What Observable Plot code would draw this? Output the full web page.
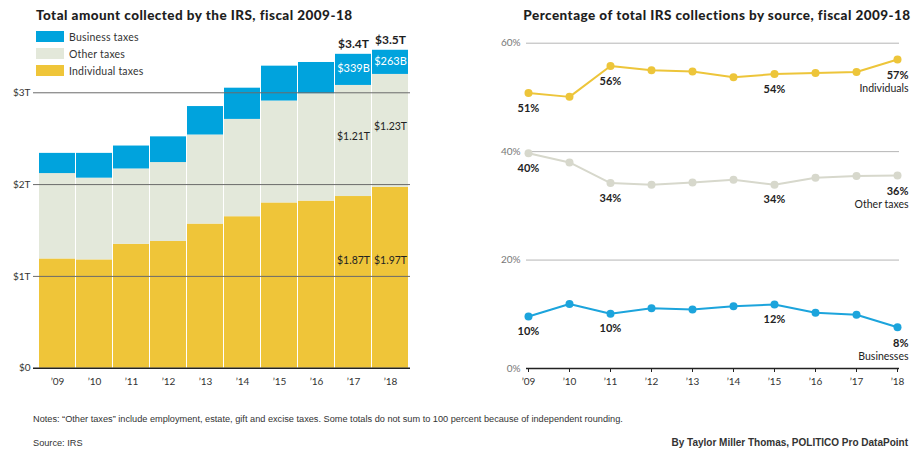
<!DOCTYPE html>
<html>
<head>
<meta charset="utf-8">
<script src="https://cdn.jsdelivr.net/npm/d3@7"></script>
<script src="https://cdn.jsdelivr.net/npm/@observablehq/plot@0.6"></script>
<style>
  html, body { margin: 0; padding: 0; background: #fff; }
  #wrap { position: relative; width: 920px; height: 459px; overflow: hidden; font-family: Lato, "Open Sans", sans-serif; color: #222; }
  .title { position: absolute; font-weight: 900; font-size: 13.5px; letter-spacing: 0.45px; color: #1e1e1e; white-space: nowrap; }
  .legend { position: absolute; left: 36px; top: 28px; font-size: 10.5px; letter-spacing: 0.2px; color: #333; }
  .legend .row { display: flex; align-items: center; height: 17px; }
  .legend .sw { width: 28px; height: 11px; margin-right: 5px; }
  .foot { position: absolute; font-family: "Liberation Sans Narrow", "Arial Narrow", sans-serif; font-size: 9.2px; color: #333; white-space: nowrap; }
  .plot { position: absolute; top: 0; }
</style>
</head>
<body>
<div id="wrap">
  <div class="title" style="left:36px; top:7px;">Total amount collected by the IRS, fiscal 2009-18</div>
  <div class="title" style="left:517px; width:400px; top:7px; text-align:center;">Percentage of total IRS collections by source, fiscal 2009-18</div>
  <div id="left" class="plot" style="left:0px;"></div>
  <div id="right" class="plot" style="left:440px;"></div>
  <div class="legend" id="legend"></div>
  <div class="foot" style="left:33px; top:414px;">Notes: “Other taxes” include employment, estate, gift and excise taxes. Some totals do not sum to 100 percent because of independent rounding.</div>
  <div class="foot" style="left:33px; top:438px;">Source: IRS</div>
  <div class="foot" style="right:12px; top:437px; font-weight:bold; font-size:10px;">By Taylor Miller Thomas, POLITICO Pro DataPoint</div>
</div>
<script>
// ---- Data ----
const yearLabels = ["’09","’10","’11","’12","’13","’14","’15","’16","’17","’18"];
// Trillions of dollars
const individualTaxes = [1.19, 1.18, 1.35, 1.38, 1.57, 1.65, 1.80, 1.82, 1.87, 1.97];
const otherTaxes      = [0.93, 0.89, 0.82, 0.86, 0.97, 1.06, 1.11, 1.17, 1.21, 1.23];
const businessTaxes   = [0.22, 0.27, 0.25, 0.28, 0.31, 0.34, 0.38, 0.34, 0.339, 0.263];
const taxTypes = ["Individual taxes", "Other taxes", "Business taxes"];
const taxColors = ["#EFC539", "#E3E8DA", "#00A3DD"];
const legendOrder = ["Business taxes", "Other taxes", "Individual taxes"];
const barLabelIndex = [8, 9];
const leftTicks = [0, 1, 2, 3];

// Percent of total
const individualShare = [50.8, 50.1, 55.8, 55.0, 54.8, 53.7, 54.3, 54.5, 54.7, 57.0];
const otherShare      = [39.7, 38.0, 34.2, 33.9, 34.3, 34.8, 33.9, 35.2, 35.5, 35.6];
const businessShare   = [9.6, 11.9, 10.1, 11.1, 10.9, 11.5, 11.8, 10.3, 9.9, 7.6];
const seriesNames = ["Individuals", "Other taxes", "Businesses"];
const seriesColors = ["#EDC53A", "#D7D8CC", "#1CA4DC"];
const shareLabelIndex = [0, 2, 6];
const endIndex = 9;
const rightTicks = [0, 20, 40, 60];

// ---- Legend ----
const legend = document.getElementById("legend");
for (const t of legendOrder) {
  const row = document.createElement("div");
  row.className = "row";
  const sw = document.createElement("div");
  sw.className = "sw";
  sw.style.background = taxColors[taxTypes.indexOf(t)];
  const lab = document.createElement("span");
  lab.textContent = t;
  row.appendChild(sw); row.appendChild(lab);
  legend.appendChild(row);
}

// ---- Left chart ----
const stackRows = yearLabels.flatMap((yr, i) => [
  {year: yr, type: taxTypes[0], value: individualTaxes[i]},
  {year: yr, type: taxTypes[1], value: otherTaxes[i]},
  {year: yr, type: taxTypes[2], value: businessTaxes[i]}
]);
const lab = barLabelIndex.map(i => ({
  year: yearLabels[i],
  ind: individualTaxes[i], oth: otherTaxes[i], biz: businessTaxes[i],
  total: individualTaxes[i] + otherTaxes[i] + businessTaxes[i]
}));

const left = Plot.plot({
  width: 430, height: 392,
  marginLeft: 36, marginRight: 20, marginTop: 37.2, marginBottom: 24.3,
  style: {fontFamily: "Lato, sans-serif", fontSize: "10px", color: "#333", background: "transparent"},
  x: {domain: yearLabels, paddingInner: 0.04, paddingOuter: 0, label: null},
  y: {domain: [0, 3.6], label: null},
  color: {domain: taxTypes, range: taxColors},
  marks: [
    Plot.barY(stackRows, {x: "year", y: "value", fill: "type", order: taxTypes}),
    Plot.ruleY(leftTicks.filter(d => d > 0), {stroke: "#6b6b6b", strokeWidth: 1, insetLeft: -3}),
    Plot.ruleY([0], {stroke: "#222", strokeWidth: 1.6, insetLeft: -3}),
    Plot.axisY({ticks: leftTicks, tickSize: 0, tickPadding: 6, tickFormat: d => d === 0 ? "$0" : `$${d}T`, fontSize: 10}),
    Plot.axisX({tickSize: 0, tickPadding: 10, fontSize: 10}),
    Plot.text(lab, {x: "year", y: "total", text: d => `$${d.total.toFixed(1)}T`, dy: -10, fontWeight: "bold", fontSize: 12, fill: "#1e1e1e"}),
    Plot.text(lab, {x: "year", y: d => d.ind + d.oth + d.biz / 2, text: d => `$${Math.round(d.biz * 1000)}B`, dy: -1, fill: "#fff", fontSize: 11}),
    Plot.text(lab, {x: "year", y: d => d.ind + d.oth / 2, text: d => `$${d.oth.toFixed(2)}T`, dy: -4, fill: "#222", fontSize: 10.5}),
    Plot.text(lab, {x: "year", y: () => 1.17, text: d => `$${d.ind.toFixed(2)}T`, fill: "#222", fontSize: 10.5})
  ]
});
document.getElementById("left").appendChild(left);

// ---- Right chart ----
const shares = [individualShare, otherShare, businessShare];
const shareRows = seriesNames.flatMap((s, k) => yearLabels.map((yr, i) => ({series: s, year: yr, value: shares[k][i]})));
const midLabels = seriesNames.flatMap((s, k) => shareLabelIndex.map(i => ({year: yearLabels[i], value: shares[k][i]})));
const endLabels = seriesNames.map((s, k) => ({name: s, year: yearLabels[endIndex], value: shares[k][endIndex]}));

const right = Plot.plot({
  width: 480, height: 392,
  marginLeft: 86, marginRight: 21, marginTop: 42.7, marginBottom: 24,
  style: {fontFamily: "Lato, sans-serif", fontSize: "10px", color: "#333", background: "transparent"},
  x: {type: "point", domain: yearLabels, padding: 0, label: null},
  y: {domain: [0, 60], label: null},
  color: {domain: seriesNames, range: seriesColors},
  marks: [
    Plot.ruleY(rightTicks.filter(d => d > 0), {stroke: "#b5b5b5", strokeWidth: 1}),
    Plot.axisY({ticks: rightTicks, tickSize: 0, tickPadding: 6, tickFormat: d => `${d}%`, fill: "#777", fontSize: 10}),
    Plot.ruleY([0], {stroke: "#222", strokeWidth: 1.3}),
    Plot.axisX({tickSize: 4, tickPadding: 5, fontSize: 10, stroke: "#222"}),
    Plot.line(shareRows, {x: "year", y: "value", z: "series", stroke: "series", strokeWidth: 2}),
    Plot.dot(shareRows, {x: "year", y: "value", fill: "series", r: 4}),
    Plot.text(midLabels, {x: "year", y: "value", text: d => `${Math.round(d.value)}%`, dy: 15, fontWeight: "bold", fontSize: 11, fill: "#222"}),
    Plot.text(endLabels, {x: "year", y: "value", text: d => `${Math.round(d.value)}%`, dy: 16, dx: 11, textAnchor: "end", fontWeight: "bold", fontSize: 11, fill: "#222"}),
    Plot.text(endLabels, {x: "year", y: "value", text: "name", dy: 29, dx: 11, textAnchor: "end", fontSize: 10.5, fill: "#222"})
  ]
});
document.getElementById("right").appendChild(right);
</script>
</body>
</html>
